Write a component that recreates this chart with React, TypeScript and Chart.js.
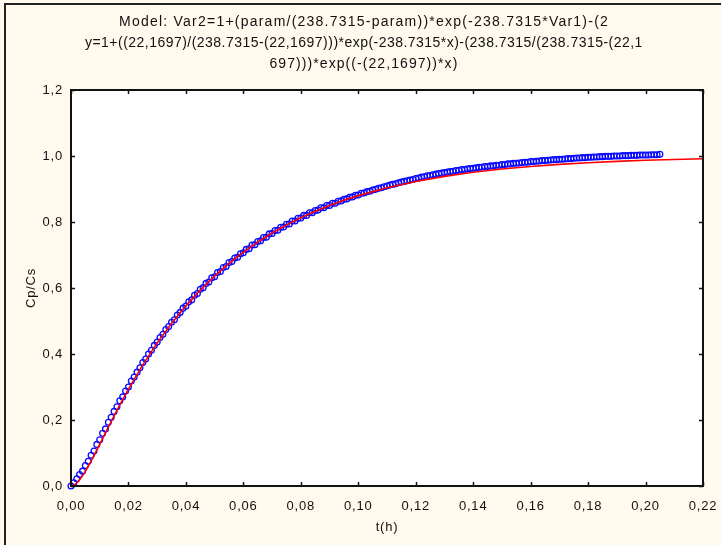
import React, { useEffect, useRef } from 'react';
import { Chart, registerables } from 'chart.js';

Chart.register(...registerables);

const titleLines = [
  'Model: Var2=1+(param/(238.7315-param))*exp(-238.7315*Var1)-(2',
  'y=1+((22,1697)/(238.7315-(22,1697)))*exp(-238.7315*x)-(238.7315/(238.7315-(22,1',
  '697)))*exp((-(22,1697))*x)',
];

const xTitle = 't(h)';
const yTitle = 'Cp/Cs';

const xTicks = [0, 0.02, 0.04, 0.06, 0.08, 0.1, 0.12, 0.14, 0.16, 0.18, 0.2, 0.22];
const xTickLabels = ['0,00', '0,02', '0,04', '0,06', '0,08', '0,10', '0,12', '0,14', '0,16', '0,18', '0,20', '0,22'];
const yTicks = [0, 0.2, 0.4, 0.6, 0.8, 1.0, 1.2];
const yTickLabels = ['0,0', '0,2', '0,4', '0,6', '0,8', '1,0', '1,2'];

// observed data (t in hours, Cp/Cs)
const tHours = [
  0.000, 0.001, 0.002, 0.003, 0.004, 0.005, 0.006, 0.007, 0.008, 0.009,
  0.010, 0.011, 0.012, 0.013, 0.014, 0.015, 0.016, 0.017, 0.018, 0.019,
  0.020, 0.021, 0.022, 0.023, 0.024, 0.025, 0.026, 0.027, 0.028, 0.029,
  0.030, 0.031, 0.032, 0.033, 0.034, 0.035, 0.036, 0.037, 0.038, 0.039,
  0.040, 0.041, 0.042, 0.043, 0.044, 0.045, 0.046, 0.047, 0.048, 0.049,
  0.050, 0.051, 0.052, 0.053, 0.054, 0.055, 0.056, 0.057, 0.058, 0.059,
  0.060, 0.061, 0.062, 0.063, 0.064, 0.065, 0.066, 0.067, 0.068, 0.069,
  0.070, 0.071, 0.072, 0.073, 0.074, 0.075, 0.076, 0.077, 0.078, 0.079,
  0.080, 0.081, 0.082, 0.083, 0.084, 0.085, 0.086, 0.087, 0.088, 0.089,
  0.090, 0.091, 0.092, 0.093, 0.094, 0.095, 0.096, 0.097, 0.098, 0.099,
  0.100, 0.101, 0.102, 0.103, 0.104, 0.105, 0.106, 0.107, 0.108, 0.109,
  0.110, 0.111, 0.112, 0.113, 0.114, 0.115, 0.116, 0.117, 0.118, 0.119,
  0.120, 0.121, 0.122, 0.123, 0.124, 0.125, 0.126, 0.127, 0.128, 0.129,
  0.130, 0.131, 0.132, 0.133, 0.134, 0.135, 0.136, 0.137, 0.138, 0.139,
  0.140, 0.141, 0.142, 0.143, 0.144, 0.145, 0.146, 0.147, 0.148, 0.149,
  0.150, 0.151, 0.152, 0.153, 0.154, 0.155, 0.156, 0.157, 0.158, 0.159,
  0.160, 0.161, 0.162, 0.163, 0.164, 0.165, 0.166, 0.167, 0.168, 0.169,
  0.170, 0.171, 0.172, 0.173, 0.174, 0.175, 0.176, 0.177, 0.178, 0.179,
  0.180, 0.181, 0.182, 0.183, 0.184, 0.185, 0.186, 0.187, 0.188, 0.189,
  0.190, 0.191, 0.192, 0.193, 0.194, 0.195, 0.196, 0.197, 0.198, 0.199,
  0.200, 0.201, 0.202, 0.203, 0.204, 0.205,
];

const cpCs = [
  0.000, 0.010, 0.022, 0.035, 0.045, 0.062, 0.075, 0.093, 0.106, 0.126,
  0.140, 0.160, 0.173, 0.193, 0.208, 0.226, 0.240, 0.258, 0.270, 0.288,
  0.300, 0.318, 0.330, 0.345, 0.358, 0.374, 0.385, 0.400, 0.411, 0.426,
  0.436, 0.450, 0.460, 0.474, 0.483, 0.496, 0.504, 0.518, 0.526, 0.539,
  0.545, 0.558, 0.564, 0.578, 0.583, 0.596, 0.601, 0.614, 0.618, 0.631,
  0.634, 0.647, 0.650, 0.662, 0.665, 0.677, 0.680, 0.691, 0.693, 0.704,
  0.707, 0.717, 0.719, 0.730, 0.731, 0.741, 0.743, 0.753, 0.754, 0.764,
  0.765, 0.774, 0.775, 0.784, 0.785, 0.793, 0.794, 0.803, 0.803, 0.811,
  0.812, 0.820, 0.820, 0.828, 0.828, 0.835, 0.836, 0.843, 0.843, 0.850,
  0.850, 0.857, 0.857, 0.863, 0.864, 0.869, 0.870, 0.875, 0.876, 0.881,
  0.882, 0.887, 0.888, 0.892, 0.893, 0.897, 0.899, 0.902, 0.904, 0.907,
  0.909, 0.912, 0.914, 0.916, 0.919, 0.921, 0.923, 0.925, 0.927, 0.929,
  0.932, 0.933, 0.936, 0.937, 0.940, 0.941, 0.943, 0.945, 0.947, 0.948,
  0.950, 0.951, 0.953, 0.954, 0.956, 0.957, 0.959, 0.959, 0.961, 0.962,
  0.963, 0.964, 0.966, 0.966, 0.968, 0.968, 0.970, 0.970, 0.972, 0.972,
  0.974, 0.974, 0.976, 0.976, 0.978, 0.978, 0.979, 0.980, 0.981, 0.981,
  0.983, 0.983, 0.984, 0.985, 0.986, 0.986, 0.987, 0.988, 0.989, 0.989,
  0.990, 0.990, 0.991, 0.992, 0.992, 0.993, 0.994, 0.994, 0.995, 0.995,
  0.996, 0.996, 0.997, 0.997, 0.998, 0.998, 0.999, 0.999, 0.999, 1.000,
  1.000, 1.000, 1.001, 1.001, 1.001, 1.002, 1.002, 1.002, 1.003, 1.003,
  1.003, 1.003, 1.004, 1.004, 1.004, 1.005,
];

// fitted model curve (red)
const fitT = [
  0.000, 0.001, 0.002, 0.003, 0.004, 0.005, 0.007, 0.010, 0.012, 0.015,
  0.017, 0.020, 0.025, 0.030, 0.035, 0.040, 0.045, 0.050, 0.055, 0.060,
  0.065, 0.070, 0.075, 0.080, 0.085, 0.090, 0.095, 0.100, 0.110, 0.120,
  0.130, 0.140, 0.150, 0.160, 0.170, 0.180, 0.190, 0.200, 0.210, 0.220,
];
const fitY = [
  0.0000, 0.0024, 0.0090, 0.0186, 0.0306, 0.0444, 0.0754, 0.1263, 0.1610, 0.2124,
  0.2456, 0.2934, 0.3670, 0.4333, 0.4927, 0.5459, 0.5936, 0.6362, 0.6744, 0.7086,
  0.7391, 0.7665, 0.7910, 0.8129, 0.8326, 0.8501, 0.8659, 0.8799, 0.9038, 0.9230,
  0.9383, 0.9506, 0.9604, 0.9683, 0.9746, 0.9796, 0.9837, 0.9869, 0.9895, 0.9916,
];

const FONT = "'Liberation Sans', Arial, sans-serif";
const TEXT = '#111111';
const BG = '#FFF9EE';

// title layout (style only)
const TITLE_CENTER_X = 364;
const TITLE_FIRST_Y = 22;
const TITLE_LINE_H = 21;
const TITLE_LINE_WIDTHS = [490, 558, 189];

const framePlugin = {
  id: 'frame',
  beforeLayout(chart: any) {
    chart.ctx.letterSpacing = '0.8px';
  },
  beforeDraw(chart: any) {
    const { ctx, width, height, chartArea: a } = chart;
    ctx.letterSpacing = '0.8px';
    ctx.save();
    ctx.fillStyle = BG;
    ctx.fillRect(0, 0, width, height);
    ctx.strokeStyle = '#222';
    ctx.lineWidth = 2;
    ctx.beginPath();
    ctx.moveTo(5, height);
    ctx.lineTo(5, 4);
    ctx.lineTo(width, 4);
    ctx.stroke();
    ctx.fillStyle = '#ffffff';
    ctx.fillRect(a.left, a.top, a.right - a.left, a.bottom - a.top);
    // title
    ctx.font = `14px ${FONT}`;
    ctx.fillStyle = TEXT;
    ctx.textAlign = 'left';
    ctx.textBaseline = 'middle';
    titleLines.forEach((line, i) => {
      ctx.letterSpacing = '0px';
      const w0 = ctx.measureText(line).width;
      const target = TITLE_LINE_WIDTHS[i];
      const ls = Math.max(0, (target - w0) / line.length);
      ctx.letterSpacing = `${ls.toFixed(2)}px`;
      ctx.fillText(line, TITLE_CENTER_X - target / 2, TITLE_FIRST_Y + TITLE_LINE_H * i);
    });
    ctx.restore();
    ctx.letterSpacing = '0.8px';
  },
  afterDraw(chart: any) {
    const { ctx, scales, chartArea: a } = chart;
    ctx.save();
    ctx.strokeStyle = '#111111';
    ctx.lineWidth = 2;
    ctx.strokeRect(a.left, a.top, a.right - a.left, a.bottom - a.top);
    ctx.lineWidth = 1.5;
    ctx.beginPath();
    for (const v of xTicks) {
      const px = Math.round(scales.x.getPixelForValue(v)) + 0.5;
      ctx.moveTo(px, a.bottom);
      ctx.lineTo(px, a.bottom - 4);
      ctx.moveTo(px, a.top);
      ctx.lineTo(px, a.top + 4);
    }
    for (const v of yTicks) {
      const py = Math.round(scales.y.getPixelForValue(v)) + 0.5;
      ctx.moveTo(a.left, py);
      ctx.lineTo(a.left + 4, py);
      ctx.moveTo(a.right, py);
      ctx.lineTo(a.right - 4, py);
    }
    ctx.stroke();
    ctx.restore();
  },
};

export default function App() {
  const ref = useRef<HTMLCanvasElement | null>(null);

  useEffect(() => {
    if (!ref.current) return;
    const chart = new Chart(ref.current, {
      type: 'scatter',
      data: {
        datasets: [
          {
            type: 'line',
            label: 'fit',
            data: fitT.map((t, i) => ({ x: t, y: fitY[i] })),
            borderColor: '#ff0000',
            borderWidth: 1.6,
            pointRadius: 0,
            fill: false,
            tension: 0,
            order: 0,
          } as any,
          {
            type: 'scatter',
            label: 'data',
            data: tHours.map((t, i) => ({ x: t, y: cpCs[i] })),
            borderColor: '#0a0aff',
            backgroundColor: 'rgba(0,0,0,0)',
            borderWidth: 1.3,
            pointRadius: 2.9,
            pointStyle: 'circle',
            clip: false,
            order: 1,
          } as any,
        ],
      },
      options: {
        responsive: false,
        animation: false,
        events: [],
        layout: { padding: { left: 0, right: 18, top: 90, bottom: 0 } },
        plugins: {
          legend: { display: false },
          tooltip: { enabled: false },
          title: { display: false },
        },
        scales: {
          x: {
            type: 'linear',
            min: 0,
            max: 0.22,
            afterBuildTicks: (s: any) => {
              s.ticks = xTicks.map((v) => ({ value: v }));
            },
            afterFit: (s: any) => {
              s.height = 59;
            },
            grid: { display: false, drawTicks: true, tickLength: 10 },
            border: { display: false },
            ticks: {
              autoSkip: false,
              maxRotation: 0,
              minRotation: 0,
              padding: 3,
              color: TEXT,
              font: { family: FONT, size: 13 },
              callback: (_v: any, i: number) => xTickLabels[i],
            },
            title: {
              display: true,
              text: xTitle,
              color: TEXT,
              font: { family: FONT, size: 13 },
              padding: { top: 0, bottom: 10 },
            },
          },
          y: {
            type: 'linear',
            min: 0,
            max: 1.2,
            afterBuildTicks: (s: any) => {
              s.ticks = yTicks.map((v) => ({ value: v }));
            },
            afterFit: (s: any) => {
              s.width = 71;
            },
            grid: { display: false, drawTicks: false },
            border: { display: false },
            ticks: {
              autoSkip: false,
              padding: 8,
              color: TEXT,
              font: { family: FONT, size: 13 },
              callback: (_v: any, i: number) => yTickLabels[i],
            },
            title: {
              display: true,
              text: yTitle,
              color: TEXT,
              font: { family: FONT, size: 13 },
              padding: { top: 24, bottom: 0 },
            },
          },
        },
      } as any,
      plugins: [framePlugin],
    });
    return () => chart.destroy();
  }, []);

  return (
    <div style={{ position: 'fixed', left: 0, top: 0, width: 721, height: 545, background: BG }}>
      <canvas ref={ref} width={721} height={545} style={{ display: 'block', width: 721, height: 545 }} />
    </div>
  );
}
